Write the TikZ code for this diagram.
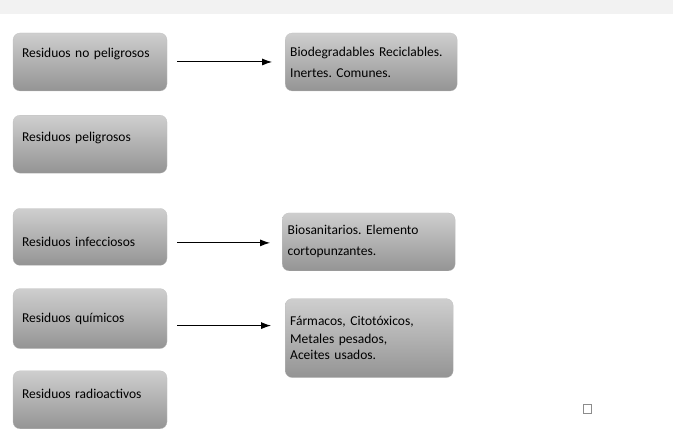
\documentclass[tikz,border=0pt]{standalone}
\usepackage{fontspec}
\setmainfont{Carlito}
\frenchspacing
\usetikzlibrary{positioning,arrows.meta}
\tikzset{
wastebox/.style={
draw=black!25,
very thin,
rounded corners=7pt,
top color=black!19,
middle color=black!23,
bottom color=black!42,
minimum width=154pt,
minimum height=58pt,
text width=136pt,
align=left,
inner xsep=9pt,
font=\fontsize{13.5}{21}\selectfont
},
typebox/.style={
wastebox,
minimum width=172pt,
text width=162pt,
inner xsep=5pt
},
arrow/.style={
-{Latex[length=10pt,width=7pt]},
line width=1pt
}
}

\begin{document}
\begin{tikzpicture}[x=1pt,y=1pt,node distance=23pt]
\useasboundingbox (0,0) rectangle (673,435);
% faint band at the top
\fill[black!5] (0,421) rectangle (673,435);

% left column
\node[wastebox,text depth=19pt] (nopel) at (90,373) {Residuos no peligrosos};
\node[wastebox,below=24pt of nopel,text depth=15pt] (pel) {Residuos peligrosos};
\node[wastebox,below=35pt of pel,minimum height=57pt,text height=19pt] (infec) {Residuos infecciosos};
\node[wastebox,below=of infec,minimum height=60pt] (quim) {Residuos químicos};
\node[wastebox,below=22pt of quim,text depth=11pt] (radio) {Residuos radioactivos};

% right column
\node[typebox,right=118pt of nopel] (biodeg) {Biodegradables Reciclables.\\Inertes. Comunes.};
\node[typebox,right=115pt of infec,yshift=-5pt,minimum width=173pt] (biosan) {Biosanitarios. Elemento\\cortopunzantes.};
\node[typebox,anchor=north west,minimum width=168pt,text width=158pt,minimum height=79pt,
font=\fontsize{13.5}{16}\selectfont] (farm) at ([xshift=118pt,yshift=-10pt]quim.north east)
{Fármacos, Citotóxicos,\\[2pt]Metales pesados,\\Aceites usados.};

\draw[arrow,shorten <=10pt,shorten >=13pt] (nopel.east) -- (biodeg.west);
\draw[arrow,shorten <=10pt,shorten >=12pt] ([yshift=-6pt]infec.east) -- ([yshift=-6pt]infec.east -| biosan.west);
\draw[arrow,shorten <=10pt,shorten >=14pt] ([yshift=-7pt]quim.east) -- ([yshift=-7pt]quim.east -| farm.west);

% stray mark
\node[draw=black!45,minimum width=8pt,minimum height=9pt,inner sep=0pt] (mark) at (587,26.5) {};
\end{tikzpicture}
\end{document}
